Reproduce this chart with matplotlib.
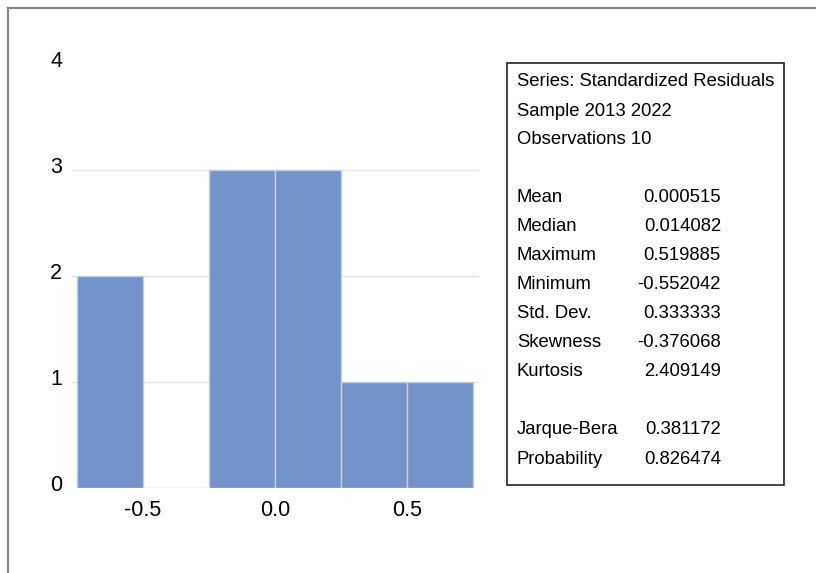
import matplotlib
matplotlib.use("Agg")
import matplotlib.pyplot as plt
import matplotlib.transforms as mtransforms
from matplotlib.lines import Line2D
from matplotlib.patches import Rectangle

plt.rcParams["font.family"] = ["Liberation Sans", "DejaVu Sans"]

# histogram of standardized residuals
bin_left = [-0.75, -0.50, -0.25, 0.00, 0.25, 0.50]
counts = [2, 0, 3, 3, 1, 1]
bin_width = 0.25
xticks = [-0.5, 0.0, 0.5]
xtick_labels = ["-0.5", "0.0", "0.5"]
yticks = [0, 1, 2, 3, 4]

header = ["Series: Standardized Residuals", "Sample 2013 2022", "Observations 10"]
stat_names = ["Mean", "Median", "Maximum", "Minimum", "Std. Dev.", "Skewness", "Kurtosis"]
stat_values = ["0.000515", "0.014082", "0.519885", "-0.552042", "0.333333", "-0.376068", "2.409149"]
test_names = ["Jarque-Bera", "Probability"]
test_values = ["0.381172", "0.826474"]

W, H = 816, 573
fig = plt.figure(figsize=(W / 100, H / 100), dpi=100)

ax = fig.add_axes([72 / W, (H - 488) / H, (479 - 72) / W, (488 - 64) / H])
ax.bar(bin_left, counts, width=bin_width, align="edge",
       color="#7394cb", edgecolor="#c9ccd6", linewidth=1.0, zorder=2)
ax.set_xlim(-0.769, 0.773)
ax.set_ylim(0, 4)
ax.set_yticks(yticks)
ax.set_yticklabels([str(v) for v in yticks])
ax.set_xticks(xticks)
ax.set_xticklabels(xtick_labels)
for y in yticks[1:-1]:
    ax.axhline(y, color="#e4e4e4", lw=1.0, zorder=1)
ax.tick_params(length=0, labelsize=15.5)
ax.tick_params(axis="y", pad=7)
ax.tick_params(axis="x", pad=9)
# y labels sit a little above their gridlines
lift = mtransforms.ScaledTranslation(0, 5 / 100, fig.dpi_scale_trans)
for lab in ax.get_yticklabels():
    lab.set_transform(lab.get_transform() + lift)
for s in ax.spines.values():
    s.set_visible(False)

# statistics box
fig.patches.append(Rectangle((507 / W, 1 - 485 / H), (784 - 507) / W, (485 - 63) / H,
                             transform=fig.transFigure, fill=False,
                             edgecolor="#222222", lw=1.2))
lx, vx = 517 / W, 721 / W
fs = 13.3
ys = [82, 111, 139]
for t, y in zip(header, ys):
    fig.text(lx, 1 - y / H, t, fontsize=fs, va="center", ha="left")
for i, (n, v) in enumerate(zip(stat_names, stat_values)):
    y = 198 + i * 28.9
    fig.text(lx, 1 - y / H, n, fontsize=fs, va="center", ha="left")
    fig.text(vx, 1 - y / H, v, fontsize=fs, va="center", ha="right")
for i, (n, v) in enumerate(zip(test_names, test_values)):
    y = 430 + i * 29
    fig.text(lx, 1 - y / H, n, fontsize=fs, va="center", ha="left")
    fig.text(vx, 1 - y / H, v, fontsize=fs, va="center", ha="right")

# outer frame (left and top edges)
fig.lines.append(Line2D([8 / W, 8 / W], [0, 1 - 8 / H], transform=fig.transFigure,
                        color="#888888", lw=1.6))
fig.lines.append(Line2D([8 / W, 1], [1 - 8 / H, 1 - 8 / H], transform=fig.transFigure,
                        color="#888888", lw=1.6))

fig.savefig("out.png", dpi=100)
